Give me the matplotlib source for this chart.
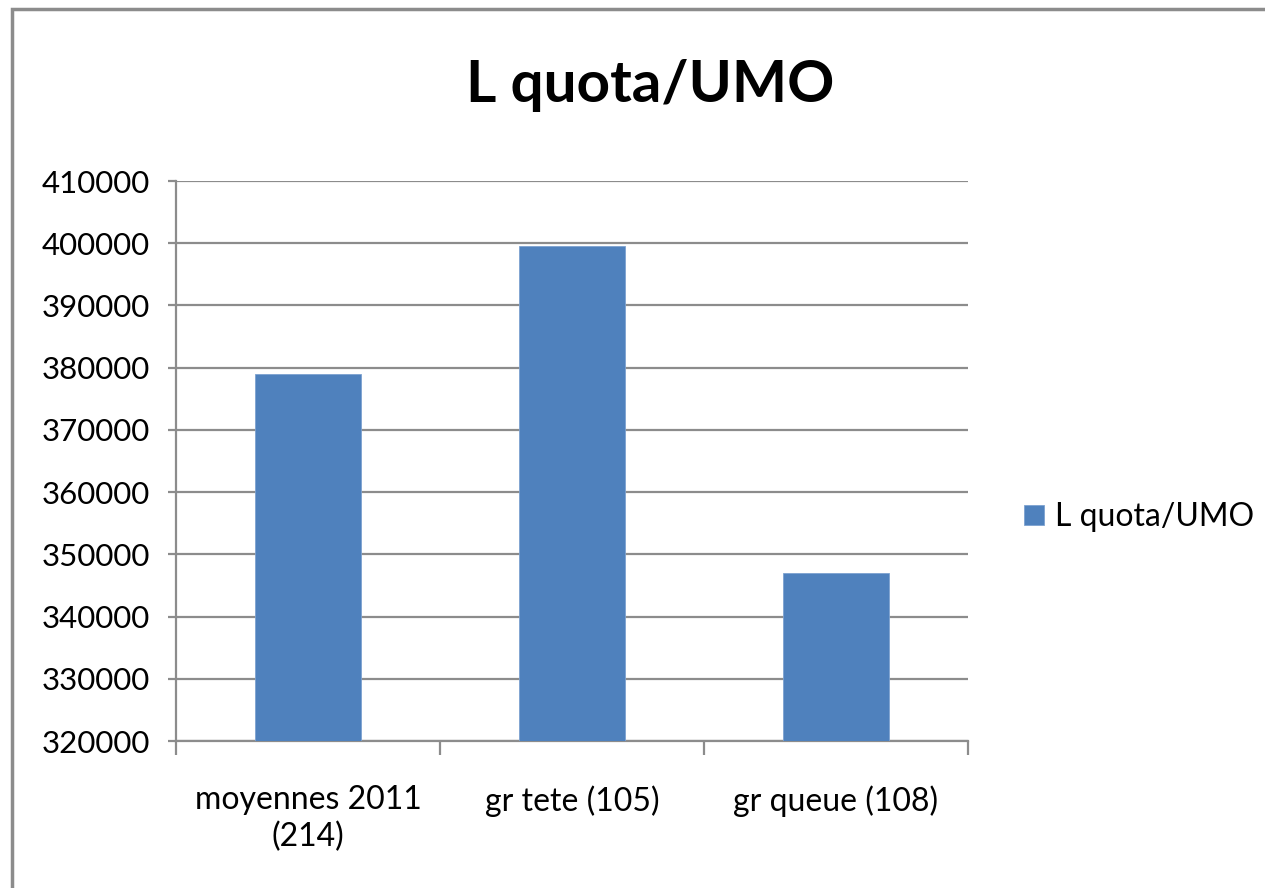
import matplotlib.pyplot as plt
from matplotlib.patches import Rectangle

# Données
categories = ['moyennes 2011\n(214)', 'gr tete (105)', 'gr queue (108)']
valeurs = [379050, 399570, 346950]
serie = 'L quota/UMO'
yticks = [320000, 330000, 340000, 350000, 360000, 370000, 380000, 390000, 400000, 410000]

plt.rcParams['font.family'] = ['Lato', 'DejaVu Sans']

fig = plt.figure(figsize=(12.65, 8.88), dpi=100)
ax = fig.add_axes([176 / 1265, 1 - 741 / 888, (968 - 176) / 1265, (741 - 181) / 888])

# Cadre extérieur du graphique
fig.patches.append(Rectangle((12 / 1265, -0.05), 1.2, 1 - 9 / 888 + 0.05,
                             transform=fig.transFigure, fill=False,
                             edgecolor='#8c8c8c', linewidth=2.5, zorder=0))

x = range(len(categories))
ax.bar(x, valeurs, width=0.4, color='#4F81BD', edgecolor='#7da2d0', linewidth=0.6,
       label=serie, zorder=3)

ax.set_ylim(320000, 410000)
ax.set_xlim(-0.5, 2.5)
ax.set_yticks(yticks)
ax.set_yticklabels([str(v) for v in yticks])
ax.set_xticks(list(x))
ax.set_xticklabels(categories, linespacing=1.25)
ax.set_xticks([-0.5, 0.5, 1.5, 2.5], minor=True)

ax.grid(axis='y', color='#8c8c8c', linewidth=1.6, zorder=0)
for s in ['top', 'right']:
    ax.spines[s].set_visible(False)
for s in ['left', 'bottom']:
    ax.spines[s].set_color('#8c8c8c')
    ax.spines[s].set_linewidth(1.6)

ax.tick_params(axis='y', length=6, width=1.6, color='#8c8c8c', labelsize=22.5, pad=13)
ax.tick_params(axis='x', which='major', length=0, labelsize=23, pad=32)
ax.tick_params(axis='x', which='minor', length=10, width=1.6, color='#8c8c8c')

# Titre centré sur la zone du graphique
fig.text(650 / 1265, 1 - 86 / 888, serie, fontsize=42, fontweight='bold',
         ha='center', va='center')

leg = ax.legend(loc='center left', bbox_to_anchor=(1.055, 0.4), frameon=False,
                fontsize=23, handlelength=0.6, handleheight=0.6, handletextpad=0.35,
                borderaxespad=0)

fig.savefig('out.png', dpi=100)
